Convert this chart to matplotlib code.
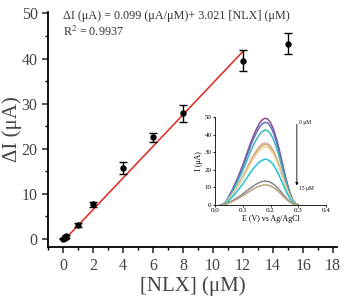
import numpy as np
import matplotlib
matplotlib.use('Agg')
import matplotlib.pyplot as plt
from matplotlib.ticker import MultipleLocator

plt.rcParams['font.family'] = ['Liberation Serif', 'DejaVu Serif']
plt.rcParams['mathtext.fontset'] = 'stix'

# calibration data
conc = [0, 0.1, 0.2, 1, 2, 4, 6, 8, 12, 15]
delta_i = [0.1, 0.3, 0.6, 3.1, 7.7, 15.8, 22.6, 27.9, 39.5, 43.3]
delta_err = [0.2, 0.2, 0.3, 0.4, 0.6, 1.3, 1.0, 1.9, 2.3, 2.3]

# fitted line (as drawn)
fit_x = [0.2, 12]
fit_y = [0.2, 41.6]

# inset DPV curves: normalised peak profile and peak heights
e_pot = [0.02, 0.03, 0.04, 0.05, 0.06, 0.07, 0.08, 0.09, 0.10, 0.11,
         0.12, 0.13, 0.14, 0.15, 0.16, 0.17, 0.18, 0.19, 0.20, 0.21,
         0.22, 0.23, 0.24, 0.25, 0.26, 0.27, 0.28, 0.29, 0.30]
profile = [0, 0.01, 0.04, 0.10, 0.16, 0.23, 0.30, 0.38, 0.46, 0.55,
           0.64, 0.73, 0.81, 0.88, 0.94, 0.98, 1.0, 0.99, 0.95, 0.88,
           0.78, 0.66, 0.52, 0.38, 0.25, 0.14, 0.06, 0.02, 0]
peaks = [49.3, 47.0, 42.6, 35.4, 34.5, 33.0, 26.0, 13.6, 11.4]
curve_colors = ['#8a4f86', '#5d6fc4', '#3fb4b8', '#d6b9b8', '#d8a86a',
                '#e3d59a', '#22c3d3', '#8a8296', '#b6a474']

fig = plt.figure(figsize=(3.48, 3.01), dpi=100)
ax = fig.add_axes([0.138, 0.179, 0.830, 0.781])

ax.errorbar(conc, delta_i, yerr=delta_err, fmt='o', color='black',
            markersize=3.6, capsize=3, elinewidth=1, capthick=1, zorder=3)
ax.plot(fit_x, fit_y, color='#e3241c', linewidth=1.1, zorder=2)

ax.set_xlim(-1, 18.25)
ax.set_ylim(-1.8, 50.3)
ax.xaxis.set_major_locator(MultipleLocator(2))
ax.xaxis.set_minor_locator(MultipleLocator(1))
ax.yaxis.set_major_locator(MultipleLocator(10))
ax.yaxis.set_minor_locator(MultipleLocator(5))
ax.spines['top'].set_visible(False)
ax.spines['right'].set_visible(False)
for s in ('left', 'bottom'):
    ax.spines[s].set_linewidth(1.3)
ax.tick_params(which='major', direction='out', length=4, width=1.2,
               labelsize=11.5, colors='#333333', labelcolor='#444444')
ax.tick_params(which='minor', direction='out', length=2.5, width=1)
ax.set_xlabel('[NLX] (\u03bcM)', fontsize=15, color='#444444', labelpad=2)
ax.set_ylabel('\u0394I (\u03bcA)', fontsize=15, color='#444444', labelpad=0)

ax.text(0.0, 49.5, '\u0394I (\u03bcA) = 0.099 (\u03bcA/\u03bcM)+ 3.021 [NLX] (\u03bcM)',
        fontsize=8.7, color='#333333', va='center')
ax.text(0.0, 46.0, 'R$^2$ = 0.9937', fontsize=8.7, color='#333333', va='center')

# inset
ins = fig.add_axes([215 / 348, 1 - 205 / 301, 111 / 348, 88 / 301])
ins.patch.set_alpha(0)
for h, c in zip(peaks, curve_colors):
    ins.plot(e_pot, np.array(profile) * h, color=c, linewidth=1.1)
ins.set_xlim(0, 0.4)
ins.set_ylim(0, 50)
ins.xaxis.set_major_locator(MultipleLocator(0.1))
ins.yaxis.set_major_locator(MultipleLocator(10))
ins.spines['top'].set_visible(False)
ins.spines['right'].set_visible(False)
for s in ('left', 'bottom'):
    ins.spines[s].set_linewidth(0.6)
ins.tick_params(direction='out', length=1.5, width=0.6, labelsize=5, pad=1)
ins.set_xlabel('E (V) vs Ag/AgCl', fontsize=5.8, labelpad=1)
ins.set_ylabel('I (\u03bcA)', fontsize=5.8, labelpad=1)
ins.annotate('', xy=(0.295, 9.5), xytext=(0.295, 47.5),
             arrowprops=dict(arrowstyle='-|>', color='black', lw=0.6,
                             mutation_scale=4))
ins.text(0.302, 47, '0 \u03bcM', fontsize=4, va='center')
ins.text(0.302, 9.5, '15 \u03bcM', fontsize=4, va='center')

fig.savefig('out.png', dpi=100)
